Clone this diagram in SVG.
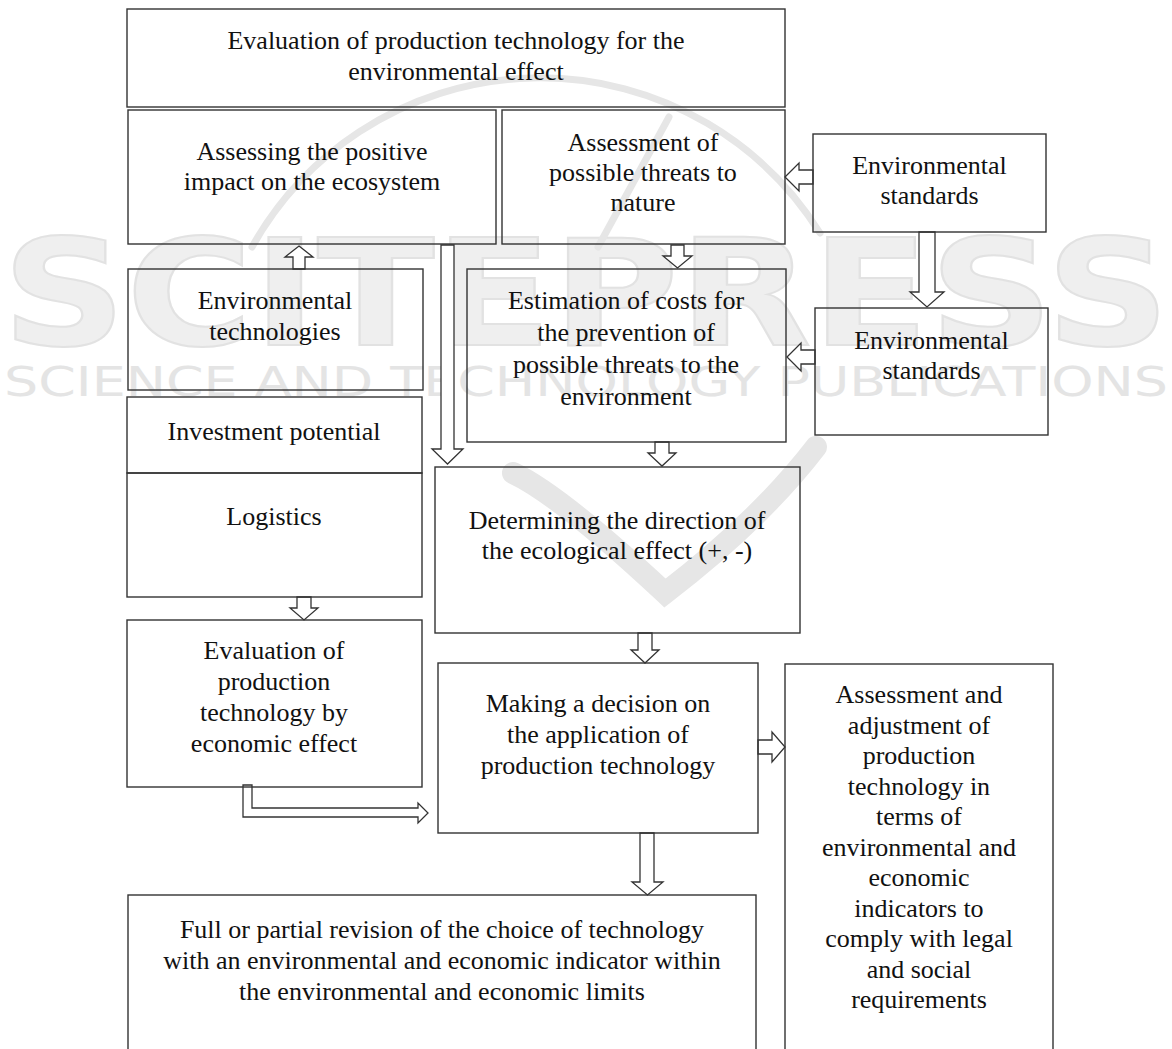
<svg xmlns="http://www.w3.org/2000/svg" width="1172" height="1049" viewBox="0 0 1172 1049">
<style>
  .box { fill: none; stroke: #333333; stroke-width: 1.4; }
  .arr { fill: #ffffff; stroke: #333333; stroke-width: 1.3; stroke-linejoin: miter; }
  .t { font-family: "Liberation Serif", "Times New Roman", serif; font-size: 26px; fill: #111111; text-anchor: middle; }
  .wm1 { font-family: "DejaVu Sans", sans-serif; font-weight: bold; font-size: 148px; fill: #efefef; stroke: #e2e2e2; stroke-width: 2; }
  .wm2 { font-family: "DejaVu Sans", sans-serif; font-size: 40px; fill: #e4e4e4; }
  .wmline { fill: none; stroke: #e6e6e6; stroke-linecap: round; }
</style>
<rect x="0" y="0" width="1172" height="1049" fill="#ffffff"/>
<g id="watermark">
  <text class="wm1" x="2" y="345" textLength="1168" lengthAdjust="spacingAndGlyphs">SCITEPRESS</text>
  <text class="wm2" x="4" y="396" textLength="1164" lengthAdjust="spacingAndGlyphs">SCIENCE AND TECHNOLOGY PUBLICATIONS</text>
  <path class="wmline" stroke-width="7" d="M 252 247 A 330 330 0 0 1 820 233"/>
  <path class="wmline" stroke-width="7" d="M 598 247 L 669 117"/>
  <path class="wmline" stroke-width="22" d="M 513 473 Q 560 495 665 593 Q 760 520 816 447"/>
</g>
<g id="connectors">
  <polygon class="arr" points="785,177 799,163 799,170 813,170 813,184 799,184 799,191"/>
  <polygon class="arr" points="671,245 684,245 684,256 692,256 677.5,268 663,256 671,256"/>
  <polygon class="arr" points="919,232 935,232 935,292 944,292 927,307 910,292 919,292"/>
  <polygon class="arr" points="299,246 313,257 305,257 305,269 293,269 293,257 285,257"/>
  <polygon class="arr" points="441,245 454,245 454,449 463,449 447.5,464 432,449 441,449"/>
  <polygon class="arr" points="655,442 669,442 669,453 676,453 662,466 648,453 655,453"/>
  <polygon class="arr" points="787,357 801,343 801,350 815,350 815,364 801,364 801,371"/>
  <polygon class="arr" points="297,597 311,597 311,608 318,608 304,620 290,608 297,608"/>
  <polygon class="arr" points="638,633 652,633 652,650 659,650 645,663 631,650 638,650"/>
  <polygon class="arr" points="758,740 772,740 772,732 785,747 772,762 772,754 758,754"/>
  <polygon class="arr" points="640,833 654,833 654,882 663,882 647.5,895 632,882 640,882"/>
  <polygon class="arr" points="243,785 252,785 252,808 418,808 418,803 428,813 418,823 418,817 243,817"/>
</g>
<g id="n-title">
  <rect class="box" x="127" y="9" width="658" height="98"/>
  <text class="t" x="456" y="49">Evaluation of production technology for the</text>
  <text class="t" x="456" y="80">environmental effect</text>
</g>
<g id="n-positive">
  <rect class="box" x="128" y="110" width="368" height="134"/>
  <text class="t" x="312" y="160">Assessing the positive</text>
  <text class="t" x="312" y="190">impact on the ecosystem</text>
</g>
<g id="n-threats">
  <rect class="box" x="502" y="110" width="283" height="134"/>
  <text class="t" x="643" y="151">Assessment of</text>
  <text class="t" x="643" y="181">possible threats to</text>
  <text class="t" x="643" y="211">nature</text>
</g>
<g id="n-envstd1">
  <rect class="box" x="813" y="134" width="233" height="98"/>
  <text class="t" x="929.5" y="174">Environmental</text>
  <text class="t" x="929.5" y="204">standards</text>
</g>
<g id="n-envtech">
  <rect class="box" x="128" y="269" width="295" height="121"/>
  <text class="t" x="275" y="309">Environmental</text>
  <text class="t" x="275" y="340">technologies</text>
</g>
<g id="n-estimation">
  <rect class="box" x="467" y="269" width="319" height="173"/>
  <text class="t" x="626" y="309">Estimation of costs for</text>
  <text class="t" x="626" y="341">the prevention of</text>
  <text class="t" x="626" y="373">possible threats to the</text>
  <text class="t" x="626" y="405">environment</text>
</g>
<g id="n-envstd2">
  <rect class="box" x="815" y="308" width="233" height="127"/>
  <text class="t" x="931.5" y="349">Environmental</text>
  <text class="t" x="931.5" y="379">standards</text>
</g>
<g id="n-investment">
  <rect class="box" x="127" y="397" width="295" height="76"/>
  <text class="t" x="274" y="440">Investment potential</text>
</g>
<g id="n-logistics">
  <rect class="box" x="127" y="473" width="295" height="124"/>
  <text class="t" x="274" y="525">Logistics</text>
</g>
<g id="n-evalecon">
  <rect class="box" x="127" y="620" width="295" height="167"/>
  <text class="t" x="274" y="659">Evaluation of</text>
  <text class="t" x="274" y="690">production</text>
  <text class="t" x="274" y="721">technology by</text>
  <text class="t" x="274" y="752">economic effect</text>
</g>
<g id="n-direction">
  <rect class="box" x="435" y="467" width="365" height="166"/>
  <text class="t" x="617" y="529">Determining the direction of</text>
  <text class="t" x="617" y="559">the ecological effect (+, -)</text>
</g>
<g id="n-decision">
  <rect class="box" x="438" y="663" width="320" height="170"/>
  <text class="t" x="598" y="712">Making a decision on</text>
  <text class="t" x="598" y="743">the application of</text>
  <text class="t" x="598" y="774">production technology</text>
</g>
<g id="n-adjust">
  <rect class="box" x="785" y="664" width="268" height="420"/>
  <text class="t" x="919" y="703">Assessment and</text>
  <text class="t" x="919" y="734">adjustment of</text>
  <text class="t" x="919" y="764">production</text>
  <text class="t" x="919" y="795">technology in</text>
  <text class="t" x="919" y="825">terms of</text>
  <text class="t" x="919" y="856">environmental and</text>
  <text class="t" x="919" y="886">economic</text>
  <text class="t" x="919" y="917">indicators to</text>
  <text class="t" x="919" y="947">comply with legal</text>
  <text class="t" x="919" y="978">and social</text>
  <text class="t" x="919" y="1008">requirements</text>
</g>
<g id="n-revision">
  <rect class="box" x="128" y="895" width="628" height="200"/>
  <text class="t" x="442" y="938">Full or partial revision of the choice of technology</text>
  <text class="t" x="442" y="969">with an environmental and economic indicator within</text>
  <text class="t" x="442" y="1000">the environmental and economic limits</text>
</g>
</svg>
